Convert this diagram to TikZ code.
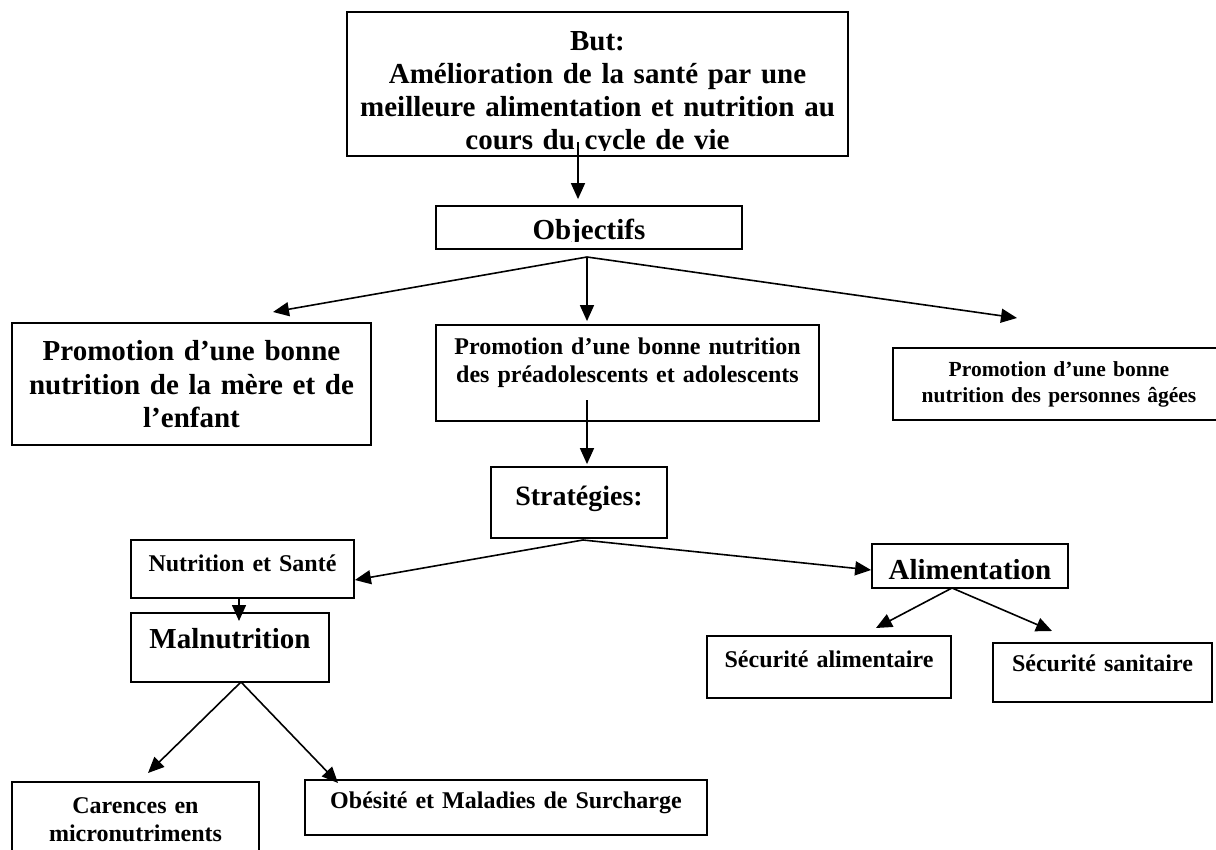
\documentclass[tikz,border=0pt]{standalone}
\usepackage{fontspec}
\setmainfont{Liberation Serif}
\usetikzlibrary{arrows.meta}

\tikzset{
  box/.style={draw, line width=1.8pt, inner sep=0pt, align=center},
  bigtxt/.style={font=\fontsize{29}{34}\selectfont\bfseries},
  midtxt/.style={font=\fontsize{24}{28}\selectfont\bfseries},
  smalltxt/.style={font=\fontsize{21.5}{26}\selectfont\bfseries},
  link/.style={line width=1.6pt, -{Triangle[length=16pt, width=14pt]}}
}

\begin{document}
\begin{tikzpicture}[x=1pt, y=-1pt]
\path[use as bounding box, fill=white] (0,0) rectangle (1216,850);

% goal at the top, last line cut by the text frame
\node[box, minimum width=501pt, minimum height=144pt,
  path picture={
    \clip (path picture bounding box.north west) rectangle ([yshift=5.5pt]path picture bounding box.south east);
    \node[font=\fontsize{29}{32.7}\selectfont\bfseries, draw=none, fill=none, text width=490pt, align=center, anchor=base] (buttext)
      at ([yshift=-39pt]path picture bounding box.north)
      {But:\\Amélioration de la santé par une\\meilleure alimentation et nutrition au\\cours du cycle de vie};}]
  (but) at (597.5,84) {};

% objectives
\node[box, minimum width=306pt, minimum height=43pt,
  path picture={
    \clip (path picture bounding box.north west) rectangle ([yshift=7.5pt]path picture bounding box.south east);
    \node[bigtxt, draw=none, fill=none, anchor=base] (objtext)
      at ([yshift=9pt]path picture bounding box.south) {Objectifs};}]
  (obj) at (589,227.5) {};

% the three target groups
\node[box, bigtxt, text width=359pt, text height=37pt, text depth=85pt, anchor=base] (mere) at (191.5,360) {Promotion d’une bonne\\nutrition de la mère et de\\l’enfant};
\node[box, midtxt, text width=383pt, text height=30pt, text depth=66pt, anchor=base] (ado) at (627.5,355) {Promotion d’une bonne nutrition\\des préadolescents et adolescents};
\node[box, smalltxt, text width=332pt, text height=29pt, text depth=43pt, anchor=base] (agees) at (1059,377) {Promotion d’une bonne\\nutrition des personnes âgées};

% strategies
\node[box, font=\fontsize{28}{32}\selectfont\bfseries, text width=176pt, text height=38pt, text depth=33pt, anchor=base] (strat) at (579,505) {Stratégies:};
\node[box, midtxt, text width=223pt, text height=31pt, text depth=27pt, anchor=base] (ns) at (242.5,571) {Nutrition et Santé};
\node[box, bigtxt, text width=198pt, text height=35pt, text depth=34pt, anchor=base] (maln) at (230,648) {Malnutrition};
\node[box, bigtxt, text width=196pt, text height=35pt, text depth=9pt, anchor=base] (alim) at (970,579) {Alimentation};
\node[box, midtxt, text width=244pt, text height=31pt, text depth=31pt, anchor=base] (secal) at (829,667) {Sécurité alimentaire};
\node[box, midtxt, text width=219pt, text height=28pt, text depth=31pt, anchor=base] (secsan) at (1102.5,671) {Sécurité sanitaire};
\node[box, midtxt, text width=247pt, text height=31pt, text depth=67pt, anchor=base] (car) at (135.5,813) {Carences en\\micronutriments};
\node[box, midtxt, text width=402pt, text height=28pt, text depth=27pt, anchor=base] (obes) at (506,808) {Obésité et Maladies de Surcharge};

% loose ends of the arrows
\coordinate (butout) at (578,142);
\coordinate (objhub) at (587,257);
\coordinate (mereend) at (273,312);
\coordinate (ageesend) at (1017,318);
\coordinate (adoout) at (587,400);
\coordinate (strathub) at (583,540);
\coordinate (malnin) at (239,621);
\coordinate (malnhub) at (241,682);
\coordinate (carend) at (148,773);
\coordinate (obesend) at (338,783);
\coordinate (alimhub) at (952,588);
\coordinate (secalend) at (876,628);
\coordinate (secsanend) at (1052,631);

% arrows
\draw[link, shorten >=6pt] (butout) -- (butout |- obj.north);
\draw[link] (objhub) -- (mereend);
\draw[link, shorten >=3pt] (objhub) -- (objhub |- ado.north);
\draw[link] (objhub) -- (ageesend);
\draw[link, shorten >=2pt] (adoout) -- (adoout |- strat.north);
\draw[link] (strathub) -- ([yshift=-11pt]ns.east);
\draw[link] (strathub) -- ([yshift=-4pt]alim.west);
\draw[link] (ns.south -| malnin) -- (malnin);
\draw[link] (malnhub) -- (carend);
\draw[link] (malnhub) -- (obesend);
\draw[link] (alimhub) -- (secalend);
\draw[link] (alimhub) -- (secsanend);
\end{tikzpicture}
\end{document}
